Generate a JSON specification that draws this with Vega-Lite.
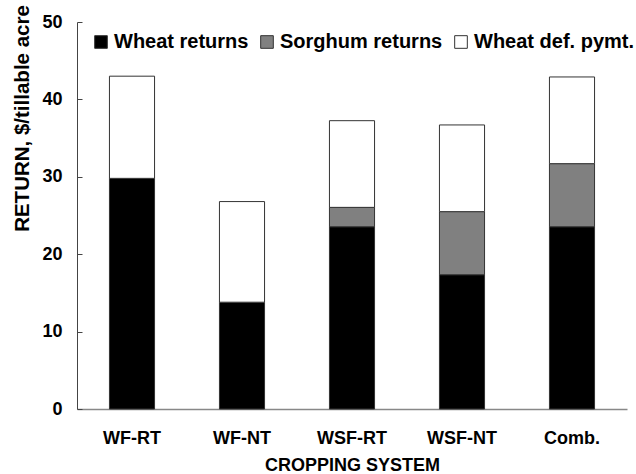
{
  "$schema": "https://vega.github.io/schema/vega-lite/v6.json",
  "width": 550,
  "height": 387,
  "autosize": {"type": "none"},
  "padding": {"left": 77, "top": 22, "right": 9, "bottom": 65},
  "background": "white",
  "config": {
    "view": {"stroke": null},
    "font": "Liberation Sans",
    "axis": {"labelFont": "Liberation Sans", "titleFont": "Liberation Sans", "labelFontWeight": "bold", "titleFontWeight": "bold", "labelColor": "#000", "titleColor": "#000", "grid": false}
  },
  "data": {
    "values": [
      {"system": "WF-RT", "component": "Wheat returns", "ord": 1, "value": 29.8},
      {"system": "WF-RT", "component": "Wheat def. pymt.", "ord": 3, "value": 13.2},
      {"system": "WF-NT", "component": "Wheat returns", "ord": 1, "value": 13.8},
      {"system": "WF-NT", "component": "Wheat def. pymt.", "ord": 3, "value": 13.0},
      {"system": "WSF-RT", "component": "Wheat returns", "ord": 1, "value": 23.55},
      {"system": "WSF-RT", "component": "Sorghum returns", "ord": 2, "value": 2.5},
      {"system": "WSF-RT", "component": "Wheat def. pymt.", "ord": 3, "value": 11.2},
      {"system": "WSF-NT", "component": "Wheat returns", "ord": 1, "value": 17.35},
      {"system": "WSF-NT", "component": "Sorghum returns", "ord": 2, "value": 8.15},
      {"system": "WSF-NT", "component": "Wheat def. pymt.", "ord": 3, "value": 11.2},
      {"system": "Comb.", "component": "Wheat returns", "ord": 1, "value": 23.55},
      {"system": "Comb.", "component": "Sorghum returns", "ord": 2, "value": 8.15},
      {"system": "Comb.", "component": "Wheat def. pymt.", "ord": 3, "value": 11.2}
    ]
  },
  "mark": {"type": "bar", "stroke": "#333", "strokeWidth": 1},
  "encoding": {
    "x": {
      "field": "system", "type": "nominal",
      "sort": ["WF-RT", "WF-NT", "WSF-RT", "WSF-NT", "Comb."],
      "scale": {"paddingInner": 0.59, "paddingOuter": 0.295},
      "axis": {
        "title": "CROPPING SYSTEM", "titleFontSize": 18, "titlePadding": 9,
        "labelFontSize": 18, "labelAngle": 0, "labelPadding": 20, "ticks": false,
        "domainColor": "#888", "domainWidth": 1.5
      }
    },
    "y": {
      "field": "value", "type": "quantitative", "stack": "zero",
      "scale": {"domain": [0, 50]},
      "axis": {
        "title": "RETURN, $/tillable acre", "titleFontSize": 20.5,
        "titleAngle": -90, "titleAlign": "center", "titleBaseline": "middle",
        "titleX": -55, "titleY": 96,
        "values": [0, 10, 20, 30, 40, 50],
        "labelFontSize": 18, "tickSize": -5, "labelPadding": 20,
        "domainColor": "#444", "tickColor": "#444"
      }
    },
    "color": {
      "field": "component", "type": "nominal",
      "scale": {"domain": ["Wheat returns", "Sorghum returns", "Wheat def. pymt."], "range": ["#000000", "#808080", "#ffffff"]},
      "legend": {
        "title": null, "orient": "none", "direction": "horizontal",
        "legendX": 14, "legendY": 10, "padding": 0,
        "symbolType": "square", "symbolSize": 160, "symbolStrokeColor": "#333", "symbolStrokeWidth": 1,
        "labelFont": "Liberation Sans", "labelFontWeight": "bold", "labelFontSize": 20, "labelColor": "#000",
        "labelOffset": 3, "columnPadding": 8, "labelLimit": 300
      }
    },
    "order": {"field": "ord", "type": "quantitative"}
  }
}
